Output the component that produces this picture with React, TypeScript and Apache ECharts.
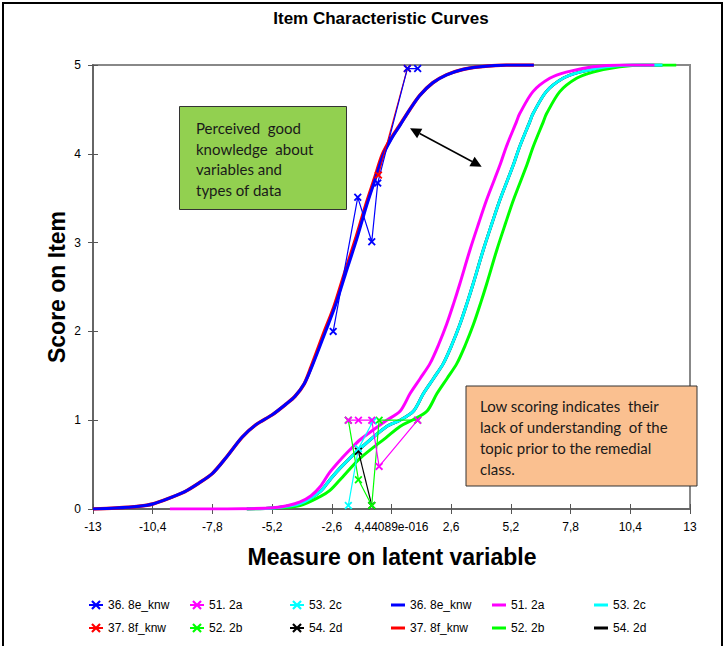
import React, { useEffect, useRef } from 'react';
import * as echarts from 'echarts';

// ---------- data ----------
const xTickLabels = ['-13', '-10,4', '-7,8', '-5,2', '-2,6', '4,44089e-016', '2,6', '5,2', '7,8', '10,4', '13'];

// expected score curves
const curve36 = [[-13, 0], [-12, 0.01], [-11, 0.03], [-10.4, 0.056], [-9.6, 0.13], [-9.0, 0.195], [-8.4, 0.29], [-7.8, 0.4], [-7.2, 0.58], [-6.5, 0.81], [-5.9, 0.95], [-5.2, 1.06], [-4.6, 1.18], [-4.2, 1.27], [-3.8, 1.41], [-3.47, 1.6], [-2.9, 1.98], [-2.46, 2.28], [-2.0, 2.65], [-1.5, 3.05], [-1.08, 3.42], [-0.7, 3.72], [-0.36, 3.99], [0.0, 4.17], [0.37, 4.32], [0.8, 4.5], [1.24, 4.66], [1.8, 4.8], [2.4, 4.89], [3.1, 4.95], [3.86, 4.98], [5.0, 5.0], [6.2, 5.0]];
const curve37 = [[-13, 0], [-12, 0.01], [-11, 0.03], [-10.4, 0.056], [-9.6, 0.13], [-9.0, 0.195], [-8.4, 0.29], [-7.8, 0.4], [-7.2, 0.58], [-6.5, 0.81], [-5.9, 0.95], [-5.2, 1.06], [-4.6, 1.18], [-4.2, 1.27], [-3.8, 1.41], [-3.5, 1.6], [-2.95, 1.98], [-2.5, 2.28], [-2.05, 2.65], [-1.55, 3.05], [-1.12, 3.42], [-0.74, 3.72], [-0.4, 3.99], [-0.03, 4.17], [0.35, 4.32], [0.8, 4.5], [1.24, 4.66], [1.8, 4.8], [2.4, 4.89], [3.1, 4.95], [3.86, 4.98], [5.0, 5.0], [6.2, 5.0]];
const curve51 = [[-9.65, 0], [-8, 0], [-6.5, 0.003], [-5.15, 0.015], [-4.5, 0.04], [-3.98, 0.08], [-3.5, 0.15], [-3.11, 0.25], [-2.7, 0.41], [-2.24, 0.55], [-1.8, 0.67], [-1.37, 0.78], [-0.8, 0.89], [-0.21, 1.0], [0.37, 1.1], [0.81, 1.3], [1.25, 1.47], [1.68, 1.64], [2.05, 1.85], [2.4, 2.08], [2.7, 2.31], [2.98, 2.54], [3.42, 2.92], [3.8, 3.22], [4.14, 3.48], [4.72, 3.87], [5.0, 4.08], [5.44, 4.36], [5.58, 4.45], [6.16, 4.7], [6.89, 4.85], [7.61, 4.92], [8.77, 4.98], [10.0, 5.0], [11.45, 5.0]];
const curve53 = [[-6.3, 0], [-5.15, 0.012], [-3.98, 0.06], [-3.11, 0.195], [-2.68, 0.33], [-2.24, 0.46], [-1.37, 0.68], [-0.21, 0.93], [0.37, 1.0], [0.95, 1.1], [1.39, 1.3], [1.83, 1.47], [2.26, 1.64], [2.63, 1.85], [2.98, 2.08], [3.28, 2.31], [3.56, 2.54], [4.0, 2.92], [4.38, 3.22], [4.72, 3.48], [5.3, 3.87], [5.58, 4.08], [6.02, 4.36], [6.16, 4.45], [6.74, 4.7], [7.47, 4.85], [8.19, 4.92], [9.35, 4.98], [10.5, 5.0], [11.8, 5.0]];
const curve52 = [[-6.3, 0], [-5.15, 0.01], [-3.98, 0.04], [-3.11, 0.14], [-2.68, 0.21], [-2.24, 0.33], [-1.37, 0.57], [-0.21, 0.81], [0.37, 0.93], [0.9, 1.0], [1.54, 1.1], [1.98, 1.3], [2.42, 1.47], [2.85, 1.64], [3.22, 1.85], [3.57, 2.08], [3.87, 2.31], [4.15, 2.54], [4.59, 2.92], [4.97, 3.22], [5.31, 3.48], [5.89, 3.87], [6.17, 4.08], [6.61, 4.36], [6.75, 4.45], [7.33, 4.7], [8.06, 4.85], [8.78, 4.92], [9.94, 4.98], [11.0, 5.0], [12.4, 5.0]];
const curve54 = [[-6.3, 0], [-5.15, 0.012], [-3.98, 0.06], [-3.11, 0.195], [-2.68, 0.33], [-2.24, 0.46], [-1.37, 0.68], [-0.21, 0.93], [0.37, 1.0], [0.95, 1.1], [1.39, 1.3], [1.83, 1.47], [2.26, 1.64], [2.63, 1.85], [2.98, 2.08], [3.28, 2.31], [3.56, 2.54], [4.0, 2.92], [4.38, 3.22], [4.72, 3.48], [5.3, 3.87], [5.58, 4.08], [6.02, 4.36], [6.16, 4.45], [6.74, 4.7], [7.47, 4.85], [8.19, 4.92], [9.35, 4.98], [10.5, 5.0], [11.8, 5.0]];

// observed scores
const obs36 = [[-2.54, 2.0], [-1.47, 3.51], [-0.86, 3.01], [-0.6, 3.67], [0.69, 4.96], [1.14, 4.96]];
const obs37 = [[-0.57, 3.76], [0.69, 4.96]];
const obs51 = [[-1.88, 1.0], [-1.44, 1.0], [-0.86, 1.0], [-0.54, 0.48], [1.14, 1.0]];
const obs52 = [[-1.88, 1.0], [-1.44, 0.33], [-0.86, 0.04], [-0.54, 1.0], [1.14, 1.0]];
const obs53 = [[-1.88, 0.04], [-1.44, 0.68], [-0.8, 0.99]];
const obs54 = [[-1.44, 0.65], [-0.86, 0.04]];

const obsNames = ['36. 8e_knw', '37. 8f_knw', '51. 2a', '52. 2b', '53. 2c', '54. 2d'];
const curveNames = ['36. 8e_knw ', '37. 8f_knw ', '51. 2a ', '52. 2b ', '53. 2c ', '54. 2d '];

const BLUE = '#0000FF';
const RED = '#FF0000';
const MAGENTA = '#FF00FF';
const GREEN = '#00FF00';
const CYAN = '#00FFFF';
const BLACK = '#000000';

const XMARK = 'path://M0,1.6L1.6,0L5,3.4L8.4,0L10,1.6L6.6,5L10,8.4L8.4,10L5,6.6L1.6,10L0,8.4L3.4,5Z';
const LINE_ICON = 'path://M0,0h0.01v0.01h-0.01z M0,4.6h14v2.8h-14z M13.99,12h0.01v0.01h-0.01z';
const FONT = "'Liberation Sans', Arial, sans-serif";
const NOTE_FONT = "Lato, 'Open Sans', sans-serif";

function curveSeries(name: string, data: number[][], color: string, width: number) {
  return {
    name, type: 'line', data, symbol: 'none', smooth: 0.3, silent: true,
    lineStyle: { color, width }, itemStyle: { color },
  };
}
function obsSeries(name: string, data: number[][], color: string) {
  return {
    name, type: 'line', data, symbol: XMARK, symbolSize: 8, showSymbol: true, silent: true,
    lineStyle: { color, width: 1.2 }, itemStyle: { color },
  };
}

export default function App() {
  const ref = useRef<HTMLDivElement>(null);
  useEffect(() => {
    if (!ref.current) return;
    const chart = echarts.init(ref.current, undefined, { renderer: 'svg' });
    const legendCol = (left: number, data: any[]) => ({
      left, top: 599, orient: 'vertical', itemGap: 11, itemWidth: 14, itemHeight: 12,
      selectedMode: false, data, formatter: (n: string) => n.trim(),
      textStyle: { fontFamily: FONT, fontSize: 12, color: '#000' }, padding: 0,
    });
    const lineItem = (name: string) => ({ name, icon: LINE_ICON });
    const u = [0.882, 0.472];
    const n = [-0.472, 0.882];
    const S = [410, 128.3];
    const E = [481.7, 166.7];
    const hl = 11, hw = 5.5;
    const bs = [S[0] + hl * u[0], S[1] + hl * u[1]];
    const be = [E[0] - hl * u[0], E[1] - hl * u[1]];
    chart.setOption({
      animation: false,
      backgroundColor: '#fff',
      grid: { left: 93, right: 36, top: 65, bottom: 137, show: true, borderColor: '#888', borderWidth: 2, containLabel: false },
      xAxis: [
        {
          type: 'value', min: -13, max: 13, interval: 2.6, position: 'bottom',
          axisLine: { show: true, onZero: false, lineStyle: { color: '#666', width: 2 } },
          axisTick: { show: true, length: 5, lineStyle: { color: '#555', width: 1 } },
          axisLabel: {
            margin: 12, fontFamily: FONT, fontSize: 12, color: '#000',
            formatter: (v: number) => xTickLabels[Math.round((v + 13) / 2.6)] ?? '',
          },
          splitLine: { show: false },
        },
        {
          type: 'value', min: -13, max: 13, interval: 2.6, position: 'bottom',
          axisLine: { show: false, onZero: false }, axisTick: { show: true, inside: true, length: 5, lineStyle: { color: '#555', width: 1 } },
          axisLabel: { show: false }, splitLine: { show: false },
        },
      ],
      yAxis: [
        {
          type: 'value', min: 0, max: 5, interval: 1, position: 'left',
          axisLine: { show: true, onZero: false, lineStyle: { color: '#666', width: 2 } },
          axisTick: { show: true, length: 5, lineStyle: { color: '#555', width: 1 } },
          axisLabel: { margin: 12, fontFamily: FONT, fontSize: 12, color: '#000' },
          splitLine: { show: false },
        },
        {
          type: 'value', min: 0, max: 5, interval: 1, position: 'left',
          axisLine: { show: false, onZero: false }, axisTick: { show: true, inside: true, length: 5, lineStyle: { color: '#555', width: 1 } },
          axisLabel: { show: false }, splitLine: { show: false },
        },
      ],
      legend: [
        legendCol(88, [obsNames[0], obsNames[1]]),
        legendCol(189, [obsNames[2], obsNames[3]]),
        legendCol(289, [obsNames[4], obsNames[5]]),
        legendCol(391, [lineItem(curveNames[0]), lineItem(curveNames[1])]),
        legendCol(492, [lineItem(curveNames[2]), lineItem(curveNames[3])]),
        legendCol(594, [lineItem(curveNames[4]), lineItem(curveNames[5])]),
      ],
      series: [
        curveSeries(curveNames[5], curve54, BLACK, 3),
        curveSeries(curveNames[1], curve37, RED, 3.5),
        curveSeries(curveNames[3], curve52, GREEN, 3),
        curveSeries(curveNames[4], curve53, CYAN, 3),
        curveSeries(curveNames[2], curve51, MAGENTA, 3),
        curveSeries(curveNames[0], curve36, BLUE, 3),
        obsSeries(obsNames[5], obs54, BLACK),
        obsSeries(obsNames[3], obs52, GREEN),
        obsSeries(obsNames[4], obs53, CYAN),
        obsSeries(obsNames[2], obs51, MAGENTA),
        obsSeries(obsNames[1], obs37, RED),
        obsSeries(obsNames[0], obs36, BLUE),
      ],
      graphic: [
        { type: 'rect', shape: { x: 3, y: 3, width: 719, height: 680 }, style: { fill: 'none', stroke: '#000', lineWidth: 2 }, z: 100, silent: true },
        { type: 'text', x: 381, y: 18, style: { text: 'Item Characteristic Curves', font: `bold 17px ${FONT}`, fill: '#000', align: 'center', verticalAlign: 'middle' }, z: 100 },
        { type: 'text', x: 392, y: 557, style: { text: 'Measure on latent variable', font: `bold 23px ${FONT}`, fill: '#000', align: 'center', verticalAlign: 'middle' }, z: 100 },
        { type: 'text', x: 57, y: 287, rotation: Math.PI / 2, style: { text: 'Score on Item', font: `bold 23px ${FONT}`, fill: '#000', align: 'center', verticalAlign: 'middle' }, z: 100 },
        // green note
        { type: 'rect', shape: { x: 179.5, y: 106.5, width: 167, height: 103 }, style: { fill: '#92D050', stroke: '#333', lineWidth: 1 }, z: 100 },
        { type: 'text', x: 196, y: 118, style: { text: 'Perceived  good\nknowledge  about\nvariables and\ntypes of data', font: `15px ${NOTE_FONT}`, lineHeight: 20.5, fill: '#1a1a1a', align: 'left', verticalAlign: 'top' }, z: 101 },
        // orange note
        { type: 'rect', shape: { x: 466, y: 386, width: 231, height: 100 }, style: { fill: '#FAC090', stroke: '#333', lineWidth: 1 }, z: 100 },
        { type: 'text', x: 480, y: 395, style: { text: 'Low scoring indicates  their\nlack of understanding  of the\ntopic prior to the remedial\nclass.', font: `15px ${NOTE_FONT}`, lineHeight: 21, fill: '#1a1a1a', align: 'left', verticalAlign: 'top' }, z: 101 },
        // double arrow
        { type: 'line', shape: { x1: bs[0], y1: bs[1], x2: be[0], y2: be[1] }, style: { stroke: '#000', lineWidth: 1.5 }, z: 100 },
        { type: 'polygon', shape: { points: [[S[0], S[1]], [bs[0] + hw * n[0], bs[1] + hw * n[1]], [bs[0] - hw * n[0], bs[1] - hw * n[1]]] }, style: { fill: '#000' }, z: 100 },
        { type: 'polygon', shape: { points: [[E[0], E[1]], [be[0] + hw * n[0], be[1] + hw * n[1]], [be[0] - hw * n[0], be[1] - hw * n[1]]] }, style: { fill: '#000' }, z: 100 },
      ],
    });
    return () => chart.dispose();
  }, []);
  return <div ref={ref} style={{ position: 'fixed', left: 0, top: 0, width: 726, height: 646, background: '#fff' }} />;
}
